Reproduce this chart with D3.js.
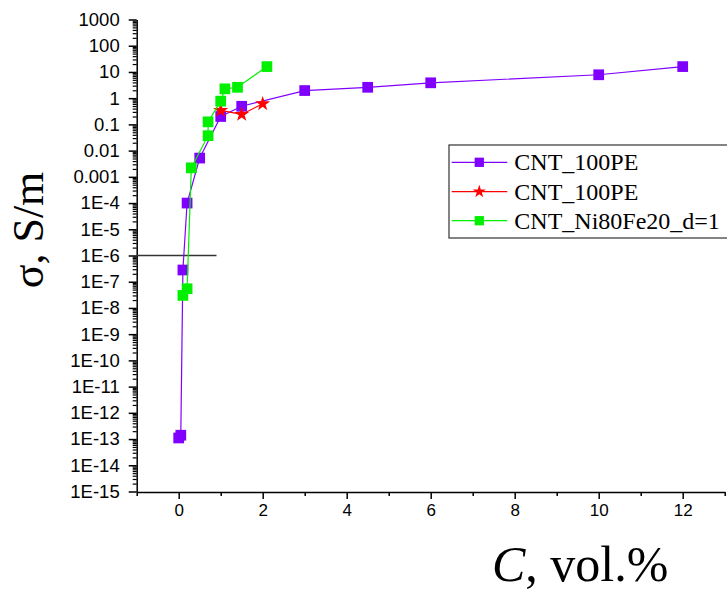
<!DOCTYPE html>
<html lang="en">
<head>
<meta charset="UTF-8">
<title>sigma vs C</title>
<script src="https://cdn.jsdelivr.net/npm/d3@7"></script>
<style>
    body{ margin:0; background:#fff; }
    .tick text{ font-family:"Liberation Sans", Arial, sans-serif; fill:#000; }
    .ttl{ font-family:"Liberation Serif", "Times New Roman", serif; fill:#000; }
</style>
</head>
<body>
<svg width="727" height="590"></svg>
<script>
    // purple squares, CNT_100PE
    const purpleC   = [0, 0.05, 0.1, 0.2, 0.5, 1, 1.5, 3, 4.5, 6, 10, 12];
    const purpleSig = [1.1e-13, 1.4e-13, 2.8e-7, 1e-4, 5.2e-3, 0.2, 0.49, 1.95, 2.6, 3.85, 7.8, 16];
    // red stars, CNT_100PE
    const redC   = [1, 1.5, 2];
    const redSig = [0.34, 0.24, 0.61];
    // green squares, CNT_Ni80Fe20_d=1
    const greenC   = [0.1, 0.2, 0.3, 0.7, 0.7, 1.0, 1.1, 1.4, 2.1];
    const greenSig = [3e-8, 5.4e-8, 0.0022, 0.037, 0.125, 0.77, 2.27, 2.6, 16];

    const xTicks = [0, 2, 4, 6, 8, 10, 12];
    const yTickLabels = ["1E-15","1E-14","1E-13","1E-12","1E-11","1E-10","1E-9","1E-8","1E-7",
                         "1E-6","1E-5","1E-4","0.001","0.01","0.1","1","10","100","1000"];
    const legendNames = ["CNT_100PE", "CNT_100PE", "CNT_Ni80Fe20_d=1"];
    const threshold = 1e-6;

    const svg = d3.select("svg");
    const x = d3.scaleLinear().domain([-1, 13]).range([136.7, 724.7]);
    const y = d3.scaleLog().domain([1e-15, 1e3]).range([491.5, 19.5]);

    // x axis
    const minorX = d3.range(-1, 14, 1).filter(v => v % 2 !== 0);
    svg.append("g").attr("transform", "translate(0,492)")
        .call(d3.axisBottom(x).tickValues(minorX).tickSize(4).tickFormat(""))
        .call(g => g.select(".domain").remove())
        .selectAll("line").attr("stroke-width", 1.5);
    svg.append("g").attr("transform", "translate(0,492)")
        .call(d3.axisBottom(x).tickValues(xTicks).tickSize(7).tickSizeOuter(0).tickPadding(5))
        .call(g => g.select(".domain").attr("stroke-width", 1.5))
        .call(g => g.selectAll("line").attr("stroke-width", 1.5))
        .call(g => g.selectAll("text").style("font-size", "17px"));

    // y axis
    const majorY = d3.range(-15, 4).map(e => Math.pow(10, e));
    const minorY = [];
    for (let e = -15; e < 3; e++) for (let k = 2; k <= 9; k++) minorY.push(k * Math.pow(10, e));
    svg.append("g").attr("transform", "translate(136.7,0)")
        .call(d3.axisLeft(y).tickValues(minorY).tickSize(4).tickFormat(""))
        .call(g => g.select(".domain").remove())
        .selectAll("line").attr("stroke-width", 1.2);
    svg.append("g").attr("transform", "translate(136.7,0)")
        .call(d3.axisLeft(y).tickValues(majorY).tickSize(8).tickSizeOuter(0).tickPadding(9)
            .tickFormat((d, i) => yTickLabels[i]))
        .call(g => g.select(".domain").attr("stroke-width", 1.5))
        .call(g => g.selectAll("line").attr("stroke-width", 1.5))
        .call(g => g.selectAll("text").style("font-size", "18.5px"));

    // percolation line
    svg.append("line")
        .attr("x1", x(-1)).attr("x2", x(0.9))
        .attr("y1", y(threshold)).attr("y2", y(threshold))
        .attr("stroke", "#333").attr("stroke-width", 1.3);

    const series = [
        {c: purpleC, s: purpleSig, color: "#8000ff", sym: d3.symbolSquare, size: 115},
        {c: redC, s: redSig, color: "#ff0000", sym: d3.symbolStar, size: 70},
        {c: greenC, s: greenSig, color: "#00f000", sym: d3.symbolSquare, size: 115}
    ];
    const line = d3.line().x(d => x(d[0])).y(d => y(d[1]));

    series.forEach(sr => {
        const pts = sr.c.map((c, i) => [c, sr.s[i]]);
        svg.append("path").datum(pts)
            .attr("d", line).attr("fill", "none")
            .attr("stroke", sr.color).attr("stroke-width", 1.2);
        svg.append("g").selectAll("path").data(pts).join("path")
            .attr("transform", d => `translate(${x(d[0])},${y(d[1])})`)
            .attr("d", d3.symbol(sr.sym, sr.size))
            .attr("fill", sr.color);
    });

    // legend
    const lg = svg.append("g");
    lg.append("rect").attr("x", 449).attr("y", 145).attr("width", 300).attr("height", 93)
        .attr("fill", "#fff").attr("stroke", "#333").attr("stroke-width", 1.2);
    const rowsY = [162.3, 191.7, 220.7];
    series.forEach((sr, i) => {
        lg.append("line").attr("x1", 451.7).attr("x2", 507.3)
            .attr("y1", rowsY[i]).attr("y2", rowsY[i])
            .attr("stroke", sr.color).attr("stroke-width", 1.2);
        lg.append("path").attr("transform", `translate(479.3,${rowsY[i]})`)
            .attr("d", d3.symbol(sr.sym, sr.size * 0.75)).attr("fill", sr.color);
        lg.append("text").attr("class", "ttl").attr("x", 514.3).attr("y", rowsY[i] + 8)
            .style("font-size", "24px").text(legendNames[i]);
    });

    // axis titles
    svg.append("text").attr("class", "ttl")
        .attr("transform", "translate(43,230) rotate(-90)")
        .attr("text-anchor", "middle").style("font-size", "44px")
        .text("σ, S/m");
    const xt = svg.append("text").attr("class", "ttl")
        .attr("x", 492).attr("y", 581).style("font-size", "50px");
    xt.append("tspan").style("font-style", "italic").text("C");
    xt.append("tspan").text(", vol.%");
</script>
</body>
</html>
